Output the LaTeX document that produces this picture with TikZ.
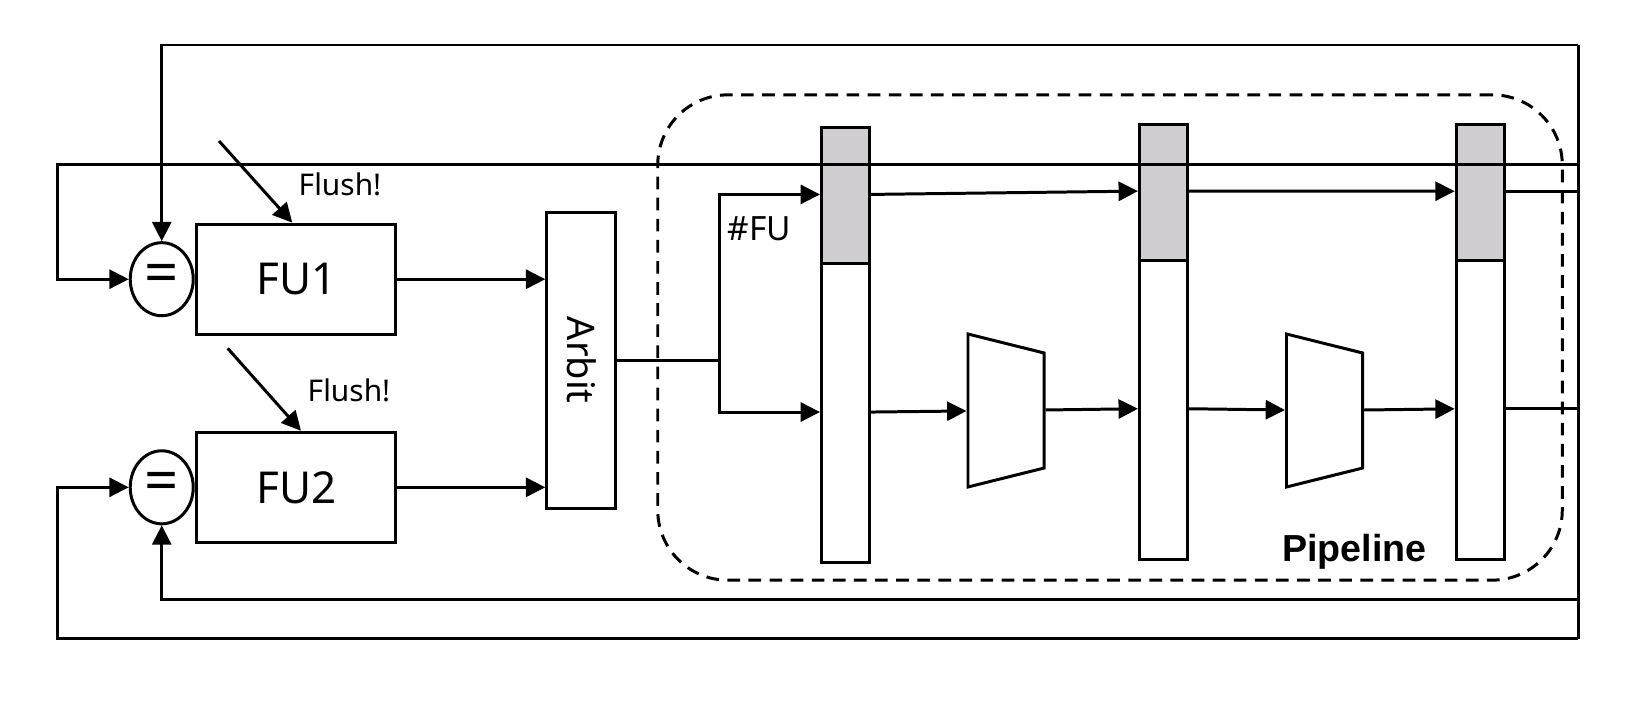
\documentclass[tikz,border=0pt]{standalone}
\usepackage{fontspec}
\setmainfont{Noto Sans}
\newfontfamily\labelfont{Liberation Sans}
\usetikzlibrary{shapes.geometric, arrows.meta, positioning}
\definecolor{regfill}{RGB}{208,206,208}

\begin{document}
\begin{tikzpicture}[
        x=0.01cm, y=-0.01cm,
        line width=0.85pt,
        fubox/.style={rectangle, draw, minimum width=1.99cm, minimum height=1.1cm, font=\fontsize{12.5}{15}\selectfont},
        eqnode/.style={ellipse, draw, minimum width=0.63cm, minimum height=0.73cm, inner sep=0pt, font=\fontsize{17}{20}\selectfont},
        arbiter/.style={rectangle, draw, minimum width=0.69cm, minimum height=2.96cm, font=\fontsize{10.8}{13}\selectfont},
        reg/.style={rectangle, draw, fill=white, minimum width=0.48cm, minimum height=4.35cm, inner sep=0pt,
            path picture={\filldraw[fill=regfill] (path picture bounding box.north west) rectangle ([yshift=-1.365cm]path picture bounding box.north east);}},
        mux/.style={trapezium, draw, rotate=-90, trapezium left angle=76, trapezium right angle=76, inner xsep=0.575cm, inner ysep=0.38cm},
        pipebox/.style={rectangle, draw, dashed, dash pattern=on 3.6pt off 2.4pt, rounded corners=0.7cm, minimum width=9.04cm, minimum height=4.85cm},
        flush/.style={font=\fontsize{8.5}{10}\selectfont, anchor=base},
        arrow/.style={->, >={Triangle[length=5.5pt, width=5.4pt]}}
    ]
        \useasboundingbox (0,0) rectangle (1646,709);

        % Pipeline frame
        \node[pipebox] (pipe) at (1110,337.5) {};
        \node[font=\labelfont\fontsize{10.7}{12}\selectfont\bfseries, anchor=base] (pipelabel) at (1354.5,561.7) {Pipeline};

        % Left Column (FUs and compare)
        \node[fubox] (fu1) at (296.3,279.2) {FU1};
        \node[fubox, below=0.95cm of fu1] (fu2) {FU2};
        \node[eqnode, left=0.005cm of fu1] (eq1) {=};
        \node[eqnode, left=0.005cm of fu2] (eq2) {=};
        \node[flush] (flushlbl1) at (340,195) {Flush!};
        \node[flush] (flushlbl2) at (349,401.7) {Flush!};
        \coordinate (fl1) at (219,141);
        \coordinate (fl2) at (227.7,348.3);

        % Arbiter
        \node[arbiter] (arbit) at (581.3,360.2) {\rotatebox{-90}{Arbit}};
        \node[font=\fontsize{9.5}{11}\selectfont, anchor=base] (fulabel) at (759.5,240) {\#FU};

        % Stage registers and units
        \node[reg] (reg1) at (845.5,345) {};
        \node[reg] (reg2) at (1163.4,341.7) {};
        \node[reg] (reg3) at (1480.2,341.8) {};
        \node[mux] (mux1) at (1006,410.5) {};
        \node[mux] (mux2) at (1324.5,410.5) {};

        \coordinate (r1upin) at ([yshift=-0.685cm]reg1.north west);
        \coordinate (r1lowin) at ([yshift=-2.86cm]reg1.north west);
        \coordinate (r1up) at ([yshift=-0.685cm]reg1.north east);
        \coordinate (r1low) at ([yshift=-2.86cm]reg1.north east);
        \coordinate (r2upin) at ([yshift=-0.685cm]reg2.north west);
        \coordinate (r2lowin) at ([yshift=-2.86cm]reg2.north west);
        \coordinate (r2up) at ([yshift=-0.685cm]reg2.north east);
        \coordinate (r2low) at ([yshift=-2.86cm]reg2.north east);
        \coordinate (r3upin) at ([yshift=-0.685cm]reg3.north west);
        \coordinate (r3lowin) at ([yshift=-2.86cm]reg3.north west);
        \coordinate (r3up) at ([yshift=-0.685cm]reg3.north east);
        \coordinate (r3low) at ([yshift=-2.86cm]reg3.north east);

        % Bus on the right
        \coordinate (bustop) at (1578,45);
        \coordinate (busbot) at (1578,638.5);
        \coordinate (fbA) at (1578,164.3);
        \coordinate (fbB) at (1578,599.7);
        \coordinate (leftx) at (57.3,0);

        % Edges
        \draw[arrow] (fl1) -- ([xshift=-0.04cm]fu1.north);
        \draw[arrow] (fl2) -- ([xshift=0.047cm]fu2.north);
        \draw[arrow] (fu1.east) -- (fu1.east -| arbit.west);
        \draw[arrow] (fu2.east) -- (fu2.east -| arbit.west);
        \draw (arbit.east) -- ++(1.02cm,0) coordinate (split);
        \draw[arrow] (split) |- (r1upin);
        \draw[arrow] (split) |- (r1lowin);

        \draw[arrow] (r1up) -- (r2upin);
        \draw[arrow] (r2up) -- (r3upin);
        \draw[arrow] (r1low) -- (mux1);
        \draw[arrow] (mux1) -- (r2lowin);
        \draw[arrow] (r2low) -- (mux2);
        \draw[arrow] (mux2) -- (r3lowin);
        \draw (r3up) -- (r3up -| bustop);
        \draw (r3low) -- (r3low -| bustop);

        % Feedback
        \draw (bustop) -- (busbot);
        \draw[arrow] (bustop) -| (eq1.north);
        \draw[arrow] (fbA) -- (fbA -| leftx) |- (eq1.west);
        \draw[arrow] (fbB) -| (eq2.south);
        \draw[arrow] (busbot) -- (busbot -| leftx) |- (eq2.west);

    \end{tikzpicture}
\end{document}
